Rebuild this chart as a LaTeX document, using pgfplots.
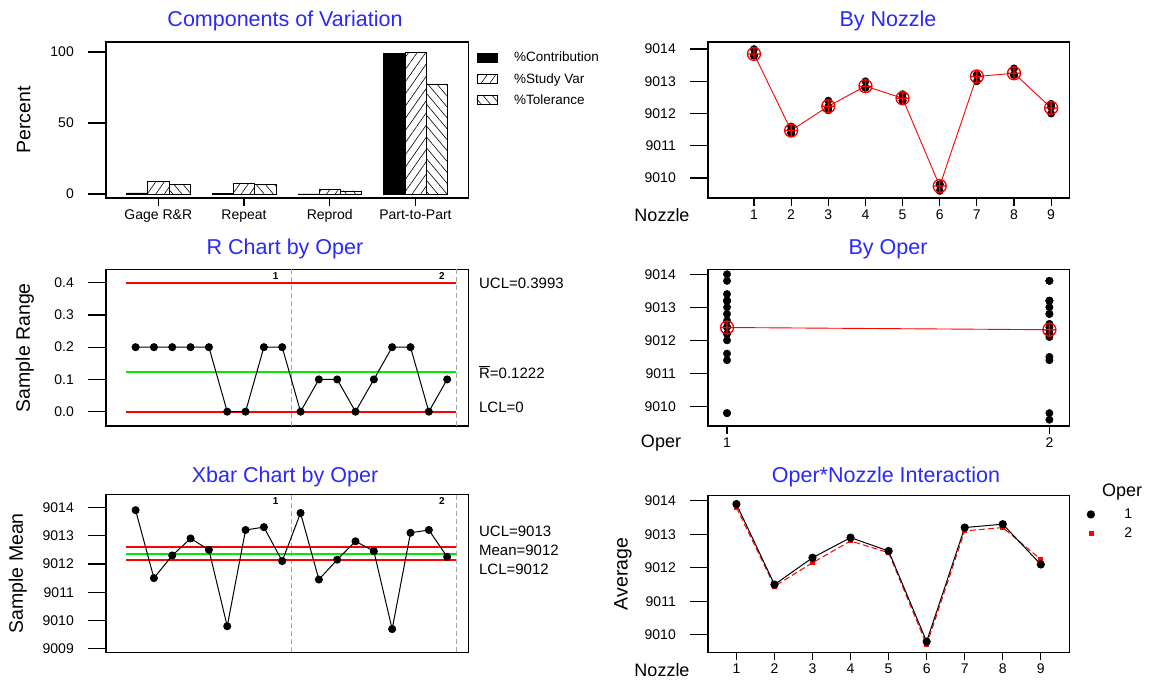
\documentclass[border=0pt]{standalone}
\usepackage{fontspec}
\setmainfont{Liberation Sans}
\usepackage{pgfplots}
\usepackage{pgfplotstable}
\pgfplotsset{compat=1.18}
\usetikzlibrary{patterns.meta}

\definecolor{ttlblue}{RGB}{40,40,255}
\definecolor{cred}{RGB}{255,0,0}
\definecolor{cgreen}{RGB}{0,235,0}
\definecolor{dgray}{RGB}{165,165,165}

% components of variation (percent)
\pgfplotstableread{
c contrib sv tol
0 0.8 8.9 6.8
1 0.6 7.8 6.6
2 0.1 3.3 2.3
3 99.2 99.6 77.5
}\cov

% single measurements, two per operator and nozzle
\pgfplotstableread{
n o1a o1b o2a o2b
1 9013.8 9014.0 9013.8 9013.8
2 9011.4 9011.6 9011.4 9011.5
3 9012.2 9012.4 9012.1 9012.2
4 9012.8 9013.0 9012.8 9012.8
5 9012.4 9012.6 9012.4 9012.5
6 9009.8 9009.8 9009.6 9009.8
7 9013.2 9013.2 9013.0 9013.2
8 9013.2 9013.4 9013.2 9013.2
9 9012.0 9012.2 9012.2 9012.3
}\meas

\pgfplotstableread{
n m1 m2 nm
1 9013.9 9013.8 9013.85
2 9011.5 9011.45 9011.475
3 9012.3 9012.15 9012.225
4 9012.9 9012.8 9012.85
5 9012.5 9012.45 9012.475
6 9009.8 9009.7 9009.75
7 9013.2 9013.1 9013.15
8 9013.3 9013.2 9013.25
9 9012.1 9012.25 9012.175
}\means

\pgfplotstableread{
s xbar r
1 9013.9 0.2
2 9011.5 0.2
3 9012.3 0.2
4 9012.9 0.2
5 9012.5 0.2
6 9009.8 0.0
7 9013.2 0.0
8 9013.3 0.2
9 9012.1 0.2
10 9013.8 0.0
11 9011.45 0.1
12 9012.15 0.1
13 9012.8 0.0
14 9012.45 0.1
15 9009.7 0.2
16 9013.1 0.2
17 9013.2 0.0
18 9012.25 0.1
}\samples

\pgfplotstableread{
oper val
1 9013.8
1 9014.0
1 9011.4
1 9011.6
1 9012.2
1 9012.4
1 9012.8
1 9013.0
1 9012.4
1 9012.6
1 9009.8
1 9009.8
1 9013.2
1 9013.2
1 9013.2
1 9013.4
1 9012.0
1 9012.2
2 9013.8
2 9013.8
2 9011.4
2 9011.5
2 9012.1
2 9012.2
2 9012.8
2 9012.8
2 9012.4
2 9012.5
2 9009.6
2 9009.8
2 9013.0
2 9013.2
2 9013.2
2 9013.2
2 9012.2
2 9012.3
}\byoper

\pgfplotstableread{
oper m
1 9012.389
2 9012.322
}\opmeans

% control limits
\pgfplotstableread{
x ucl cl lcl
0.5 0.3993 0.1222 0
18.5 0.3993 0.1222 0
}\rlims
\pgfplotstableread{
x ucl cl lcl
0.5 9012.585 9012.356 9012.126
18.5 9012.585 9012.356 9012.126
}\xlims

\pgfplotsset{
  gage/.style={
    scale only axis, anchor=south west,
    axis line style={line width=1.2pt},
    tick style={line width=1.2pt, black},
    tick align=outside, xtick pos=bottom, ytick pos=left,
    major tick length=8pt,
    ytick style={/pgfplots/major tick length=18pt},
    tick label style={font=\fontsize{14}{16}\selectfont},
    yticklabel style={inner xsep=24pt},
    ylabel style={anchor=center, font=\fontsize{19.5}{22}\selectfont},
  },
  sep/.style={draw=dgray, line width=0.8pt, dash pattern=on 5pt off 3pt, forget plot},
  lim/.style={line width=1.8pt, forget plot},
}
\newcommand\ttl[1]{\fontsize{21.5}{24}\selectfont\color{ttlblue}#1}
\newcommand\rlab{\fontsize{15}{17}\selectfont}

\begin{document}
\begin{tikzpicture}
\useasboundingbox (0,0) rectangle (1149pt,685pt);

% ---------- Components of Variation
\begin{axis}[gage, at={(106pt,487pt)}, width=362.6pt, height=156pt,
  ybar=0pt, bar width=21.3pt,
  xmin=-0.61, xmax=3.62, ymin=-2.8, ymax=107,
  xtick={0,1,2,3}, xticklabels={Gage R\&R,Repeat,Reprod,Part-to-Part},
  ytick={0,50,100}, yticklabels={0,50,100},
  ylabel={Percent}, ylabel style={at={(axis description cs:-0.227,0.5)}},
  legend style={at={(axis description cs:1.022,0.95)}, anchor=north west,
    draw=none, fill=none, inner sep=0pt, row sep=6pt,
    font=\fontsize{13.5}{15}\selectfont,
    /tikz/column 1/.style={column sep=15pt}},
  legend cell align=left,
  legend image code/.code={\draw[#1] (0pt,-4.5pt) rectangle (20pt,4.5pt);},
]
\addplot[fill=black, draw=black] table[x=c, y=contrib]{\cov};
\addplot[draw=black, pattern={Lines[angle=55, distance=7pt, line width=0.6pt]}] table[x=c, y=sv]{\cov};
\addplot[draw=black, pattern={Lines[angle=-50, distance=7pt, line width=0.6pt]}] table[x=c, y=tol]{\cov};
\legend{\%Contribution, \%Study Var, \%Tolerance}
\end{axis}
\node at (285pt,664pt) {\ttl{Components of Variation}};

% ---------- By Nozzle
\begin{axis}[gage, at={(708pt,487pt)}, width=361.7pt, height=156pt,
  xmin=-0.238, xmax=9.5, ymin=9009.38, ymax=9014.22,
  xtick={1,2,3,4,5,6,7,8,9}, xticklabels={1,2,3,4,5,6,7,8,9},
  ytick={9010,9011,9012,9013,9014}, yticklabels={9010,9011,9012,9013,9014},
]
\addplot[only marks, mark=*, mark size=3.7pt, black] table[x=n, y=o1a]{\meas};
\addplot[only marks, mark=*, mark size=3.7pt, black] table[x=n, y=o1b]{\meas};
\addplot[only marks, mark=*, mark size=3.7pt, black] table[x=n, y=o2a]{\meas};
\addplot[only marks, mark=*, mark size=3.7pt, black] table[x=n, y=o2b]{\meas};
\addplot[cred, line width=0.9pt, mark=oplus, mark size=6.5pt, mark options={line width=1.3pt}] table[x=n, y=nm]{\means};
\end{axis}
\node at (888pt,664pt) {\ttl{By Nozzle}};
\node[font=\fontsize{18}{20}\selectfont] at (662pt,470pt) {Nozzle};

% ---------- R Chart by Oper
\begin{axis}[gage, at={(106pt,259pt)}, width=362.6pt, height=156.7pt,
  xmin=-0.615, xmax=19.17, ymin=-0.0444, ymax=0.4415, clip=false,
  xtick=\empty,
  ytick={0,0.1,0.2,0.3,0.4}, yticklabels={0.0,0.1,0.2,0.3,0.4},
  ylabel={Sample Range}, ylabel style={at={(axis description cs:-0.224,0.5)}},
]
\addplot[sep] coordinates {(9.5,-0.0444) (9.5,0.4415)};
\addplot[sep] coordinates {(18.5,-0.0444) (18.5,0.4415)};
\addplot[lim, draw=cred] table[x=x, y=ucl]{\rlims};
\addplot[lim, draw=cgreen] table[x=x, y=cl]{\rlims};
\addplot[lim, draw=cred] table[x=x, y=lcl]{\rlims};
\addplot[black, line width=1pt, mark=*, mark size=3.5pt] table[x=s, y=r]{\samples};
\node[anchor=north, font=\fontsize{10}{11}\selectfont\bfseries] at (axis cs:8.64,0.4415) {1};
\node[anchor=north, font=\fontsize{10}{11}\selectfont\bfseries] at (axis cs:17.71,0.4415) {2};
\node[anchor=west, xshift=7pt, font=\rlab] at (axis cs:19.17,0.3993) {UCL=0.3993};
\node[anchor=west, xshift=7pt, font=\rlab] at (axis cs:19.17,0.1222) {$\overline{\mbox{R}}$=0.1222};
\node[anchor=west, xshift=7pt, font=\rlab] at (axis cs:19.17,0.012) {LCL=0};
\end{axis}
\node at (285pt,436pt) {\ttl{R Chart by Oper}};

% ---------- By Oper
\begin{axis}[gage, at={(708pt,259pt)}, width=361.7pt, height=156.7pt,
  xmin=0.941, xmax=2.063, ymin=9009.41, ymax=9014.15,
  xtick={1,2}, xticklabels={1,2},
  ytick={9010,9011,9012,9013,9014}, yticklabels={9010,9011,9012,9013,9014},
]
\addplot[only marks, mark=*, mark size=3.7pt, black] table[x=oper, y=val]{\byoper};
\addplot[cred, line width=0.9pt, mark=oplus, mark size=6.5pt, mark options={line width=1.3pt}] table[x=oper, y=m]{\opmeans};
\end{axis}
\node at (888pt,436pt) {\ttl{By Oper}};
\node[font=\fontsize{18}{20}\selectfont] at (661pt,242pt) {Oper};

% ---------- Xbar Chart by Oper
\begin{axis}[gage, at={(106pt,32.7pt)}, width=362.6pt, height=158pt,
  xmin=-0.615, xmax=19.17, ymin=9008.88, ymax=9014.46, clip=false,
  xtick=\empty,
  ytick={9009,9010,9011,9012,9013,9014}, yticklabels={9009,9010,9011,9012,9013,9014},
  ylabel={Sample Mean}, ylabel style={at={(axis description cs:-0.243,0.5)}},
]
\addplot[sep] coordinates {(9.5,9008.88) (9.5,9014.46)};
\addplot[sep] coordinates {(18.5,9008.88) (18.5,9014.46)};
\addplot[lim, draw=cred] table[x=x, y=ucl]{\xlims};
\addplot[lim, draw=cgreen] table[x=x, y=cl]{\xlims};
\addplot[lim, draw=cred] table[x=x, y=lcl]{\xlims};
\addplot[black, line width=1pt, mark=*, mark size=3.5pt] table[x=s, y=xbar]{\samples};
\node[anchor=north, font=\fontsize{10}{11}\selectfont\bfseries] at (axis cs:8.64,9014.46) {1};
\node[anchor=north, font=\fontsize{10}{11}\selectfont\bfseries] at (axis cs:17.71,9014.46) {2};
\node[anchor=west, xshift=7pt, font=\rlab] at (axis cs:19.17,9013.16) {UCL=9013};
\node[anchor=west, xshift=7pt, font=\rlab] at (axis cs:19.17,9012.49) {Mean=9012};
\node[anchor=west, xshift=7pt, font=\rlab] at (axis cs:19.17,9011.82) {LCL=9012};
\end{axis}
\node at (285pt,208pt) {\ttl{Xbar Chart by Oper}};

% ---------- Oper*Nozzle Interaction
\begin{axis}[gage, at={(708pt,32.7pt)}, width=361.7pt, height=156.6pt,
  xmin=0.253, xmax=9.76, ymin=9009.48, ymax=9014.15,
  xtick={1,2,3,4,5,6,7,8,9}, xticklabels={1,2,3,4,5,6,7,8,9},
  ytick={9010,9011,9012,9013,9014}, yticklabels={9010,9011,9012,9013,9014},
  ylabel={Average}, ylabel style={at={(axis description cs:-0.235,0.5)}},
  legend style={at={(axis description cs:1.048,0.93)}, anchor=north west,
    draw=none, fill=none, inner sep=0pt, row sep=4pt,
    font=\fontsize{14}{16}\selectfont,
    /tikz/column 1/.style={column sep=28pt}},
  legend image code/.code={\draw[#1, only marks] plot coordinates {(6pt,0pt)};},
]
\addplot[cred, line width=1pt, dash pattern=on 6pt off 3pt, mark=square*, mark size=2pt, mark options={solid}, forget plot] table[x=n, y=m2]{\means};
\addplot[black, line width=1pt, mark=*, mark size=3.6pt] table[x=n, y=m1]{\means};
\addlegendentry{1}
\addlegendimage{cred, mark=square*, mark size=2pt}
\addlegendentry{2}
\end{axis}
\node at (886pt,208pt) {\ttl{Oper*Nozzle Interaction}};
\node[font=\fontsize{18}{20}\selectfont] at (662pt,15pt) {Nozzle};
\node[font=\fontsize{18}{20}\selectfont] at (1122pt,193pt) {Oper};
\end{tikzpicture}
\end{document}
